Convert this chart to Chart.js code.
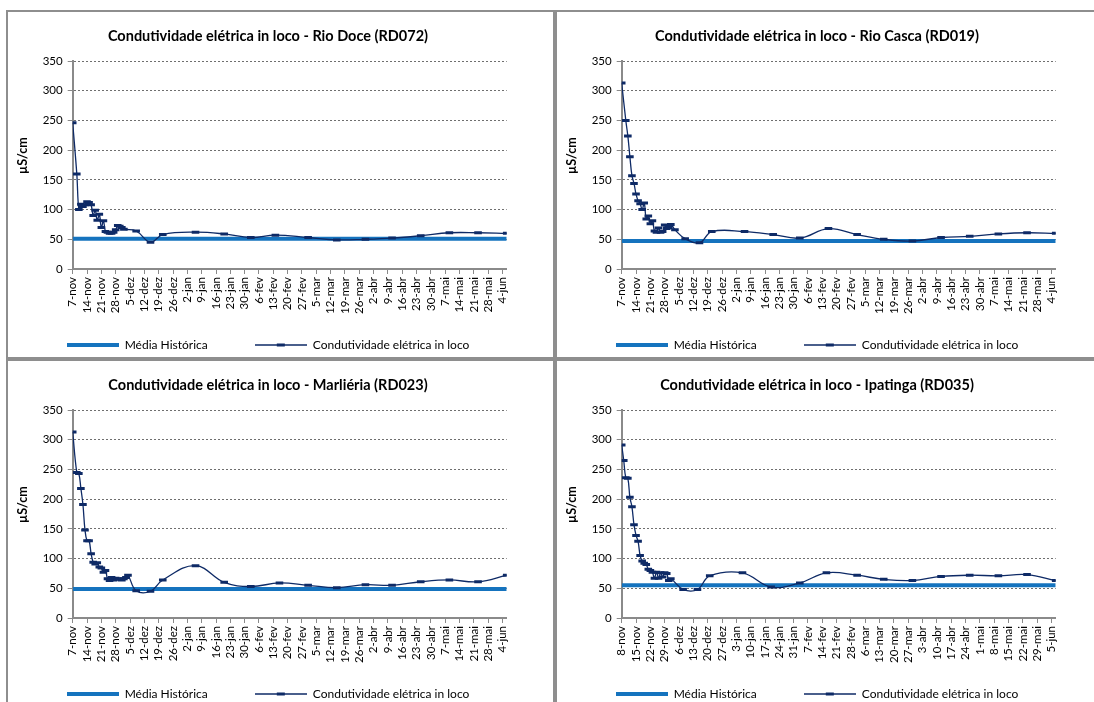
<!DOCTYPE html>
<html>
<head>
<meta charset="utf-8">
<script src="https://cdn.jsdelivr.net/npm/chart.js@4.4.0/dist/chart.umd.min.js"></script>
<style>
  body { margin: 0; background: #fff; width: 1094px; height: 702px; overflow: hidden; position: relative; }
  .panel { position: absolute; box-sizing: border-box; border: 2px solid #8e8e8e; background: #fff; overflow: hidden; }
  .panel canvas { display: block; }
</style>
</head>
<body>
<div class="panel" style="left:6px;top:10px;width:549px;height:349px"><canvas id="rd072" width="545" height="350"></canvas></div>
<div class="panel" style="left:555px;top:10px;width:549px;height:349px"><canvas id="rd019" width="545" height="350"></canvas></div>
<div class="panel" style="left:6px;top:359px;width:549px;height:360px"><canvas id="rd023" width="545" height="350"></canvas></div>
<div class="panel" style="left:555px;top:359px;width:549px;height:360px"><canvas id="rd035" width="545" height="350"></canvas></div>
<script>
// weekly tick labels (x values are days since the first label)
const ticksFrom7Nov = ['7-nov', '14-nov', '21-nov', '28-nov', '5-dez', '12-dez', '19-dez', '26-dez', '2-jan', '9-jan',
  '16-jan', '23-jan', '30-jan', '6-fev', '13-fev', '20-fev', '27-fev', '5-mar', '12-mar', '19-mar', '26-mar',
  '2-abr', '9-abr', '16-abr', '23-abr', '30-abr', '7-mai', '14-mai', '21-mai', '28-mai', '4-jun'];
const ticksFrom8Nov = ['8-nov', '15-nov', '22-nov', '29-nov', '6-dez', '13-dez', '20-dez', '27-dez', '3-jan', '10-jan',
  '17-jan', '24-jan', '31-jan', '7-fev', '14-fev', '21-fev', '28-fev', '6-mar', '13-mar', '20-mar', '27-mar',
  '3-abr', '10-abr', '17-abr', '24-abr', '1-mai', '8-mai', '15-mai', '22-mai', '29-mai', '5-jun'];

// Rio Doce (RD072)
const rioDoceDays = [0, 2, 3, 4, 5, 6, 7, 8, 9, 10, 11, 12, 13, 14, 15, 16, 17, 18, 19, 20, 21, 22, 23, 24, 25,
  31, 38, 44, 60, 74, 87, 99, 115, 129, 143, 156, 170, 184, 198, 212];
const rioDoceValues = [246, 160, 100, 109, 105, 108, 113, 112, 108, 90, 99, 82, 92, 70, 81, 63, 62, 60, 60, 62, 66, 73, 72, 70, 67,
  64, 45, 58, 62, 59, 53, 57, 53, 49, 50, 52, 56, 61, 61, 60];
const rioDoceMean = 51;

// Rio Casca (RD019)
const rioCascaDays = [0, 2, 3, 4, 5, 6, 7, 8, 9, 10, 11, 12, 13, 14, 15, 16, 17, 18, 19, 20, 21, 22, 23, 24, 26,
  31, 38, 44, 60, 74, 87, 101, 115, 128, 142, 156, 170, 184, 198, 212];
const rioCascaValues = [313, 250, 224, 189, 157, 144, 126, 115, 110, 100, 111, 84, 89, 76, 81, 64, 62, 69, 62, 63, 74, 68, 70, 75, 66,
  51, 44, 63, 63, 58, 52, 68, 58, 50, 47, 53, 55, 59, 61, 60];
const rioCascaMean = 47;

// Marliéria (RD023)
const marlieriaDays = [0, 2, 3, 4, 5, 6, 7, 8, 9, 10, 11, 12, 13, 14, 15, 16, 17, 18, 19, 20, 21, 22, 23, 24, 25, 26, 27,
  31, 38, 44, 60, 74, 87, 101, 115, 129, 143, 156, 170, 184, 198, 212];
const marlieriaValues = [313, 245, 243, 218, 191, 148, 130, 130, 108, 94, 91, 93, 86, 84, 77, 80, 66, 63, 68, 64, 67, 65, 66, 64, 66, 68, 72,
  46, 45, 64, 88, 60, 53, 59, 55, 51, 56, 55, 61, 64, 61, 72];
const marlieriaMean = 49;

// Ipatinga (RD035)
const ipatingaDays = [0, 1, 2, 3, 4, 5, 6, 7, 8, 9, 10, 11, 12, 13, 14, 15, 16, 17, 18, 19, 20, 21, 22, 23, 24,
  30, 37, 43, 59, 73, 87, 100, 115, 128, 142, 156, 170, 184, 198, 212];
const ipatingaValues = [291, 265, 236, 235, 203, 187, 157, 139, 129, 105, 96, 92, 90, 82, 80, 77, 67, 77, 67, 76, 69, 76, 75, 63, 66,
  48, 48, 71, 76, 52, 59, 76, 72, 65, 63, 70, 72, 71, 73, 63];
const ipatingaMean = 55;

const FONT = 'Lato, "Open Sans", sans-serif';
const navy = '#0e2a66';
const blue = '#1573be';
const axisGray = '#8a8a8a';

function legendIcon(withMarker) {
  const c = document.createElement('canvas');
  c.width = 52; c.height = 8;
  const g = c.getContext('2d');
  if (withMarker) {
    g.strokeStyle = navy; g.lineWidth = 1.3;
    g.beginPath(); g.moveTo(0, 4); g.lineTo(52, 4); g.stroke();
    g.fillStyle = navy; g.fillRect(22, 2.5, 8, 3);
  } else {
    g.fillStyle = blue; g.fillRect(0, 2, 52, 4);
  }
  return c;
}
const icons = [legendIcon(false), legendIcon(true)];
// extra room after the first legend entry
const legendGap = ['\u2003\u2003\u2003', ''];

function makeChart(id, title, days, values, mean, ticks) {
  const points = days.map((d, i) => ({ x: d, y: values[i] }));
  const lastDay = 212;
  return new Chart(document.getElementById(id), {
    type: 'line',
    data: {
      datasets: [
        { label: 'Média Histórica', data: [{ x: 0, y: mean }, { x: lastDay, y: mean }],
          borderColor: blue, borderWidth: 4, pointRadius: 0, order: 1 },
        { label: 'Condutividade elétrica in loco', data: points, borderColor: navy, borderWidth: 1.3,
          tension: 0.4, pointStyle: 'line', pointRadius: 3.8, pointBorderWidth: 3,
          pointBorderColor: navy, pointBackgroundColor: navy, order: 0 }
      ]
    },
    options: {
      responsive: false,
      animation: false,
      events: [],
      layout: { padding: { left: 0, right: 25, top: 0, bottom: 1 } },
      plugins: {
        title: { display: true, text: title, color: '#000',
          font: { family: FONT, size: 14.5, weight: 'bold' }, padding: { top: 15.3, bottom: 16.3 } },
        legend: {
          position: 'bottom',
          labels: {
            usePointStyle: true, pointStyleWidth: 52, padding: 20, color: '#000',
            font: { family: FONT, size: 12 },
            generateLabels: chart => chart.data.datasets.map((ds, i) => ({
              text: ds.label + legendGap[i], pointStyle: icons[i], fillStyle: 'transparent', strokeStyle: 'transparent',
              lineWidth: 0, hidden: false, datasetIndex: i, fontColor: '#000'
            }))
          }
        },
        tooltip: { enabled: false }
      },
      scales: {
        x: {
          type: 'linear', min: 0, max: lastDay,
          afterBuildTicks: s => { s.ticks = ticks.map((_, i) => ({ value: i * 7 })); },
          afterFit: s => { s.height = 50; },
          ticks: { autoSkip: false, minRotation: 90, maxRotation: 90, padding: 3, color: '#000',
            font: { family: FONT, size: 11.5 }, callback: v => ticks[Math.round(v / 7)] },
          grid: { drawOnChartArea: false, tickLength: 5, color: axisGray, tickColor: axisGray },
          border: { color: axisGray, width: 2 }
        },
        y: {
          min: 0, max: 350,
          afterFit: s => { s.width = 64.7; },
          ticks: { stepSize: 50, padding: 5, color: '#000', font: { family: FONT, size: 11.5 } },
          grid: { color: '#6f6f6f', lineWidth: 1, tickColor: axisGray, tickLength: 5, tickBorderDash: [] },
          border: { color: axisGray, width: 2, dash: [2, 2] },
          title: { display: true, text: '\u2003\u2003µS/cm', color: '#000',
            font: { family: FONT, size: 12.5, weight: 'bold' }, padding: { top: 7, bottom: 0 } }
        },
        yr: {
          position: 'right', min: 0, max: 1,
          afterFit: s => { s.width = 21.3; },
          ticks: { display: false }, grid: { display: false }, border: { display: false }
        }
      }
    }
  });
}

makeChart('rd072', 'Condutividade elétrica in loco - Rio Doce (RD072)', rioDoceDays, rioDoceValues, rioDoceMean, ticksFrom7Nov);
makeChart('rd019', 'Condutividade elétrica in loco - Rio Casca (RD019)', rioCascaDays, rioCascaValues, rioCascaMean, ticksFrom7Nov);
makeChart('rd023', 'Condutividade elétrica in loco - Marliéria (RD023)', marlieriaDays, marlieriaValues, marlieriaMean, ticksFrom7Nov);
makeChart('rd035', 'Condutividade elétrica in loco - Ipatinga (RD035)', ipatingaDays, ipatingaValues, ipatingaMean, ticksFrom8Nov);
</script>
</body>
</html>
